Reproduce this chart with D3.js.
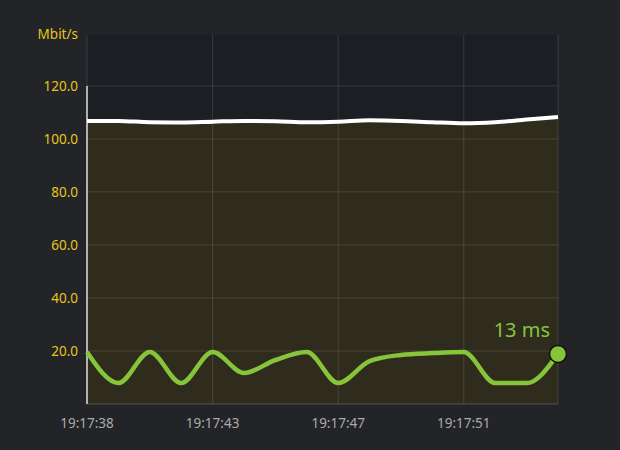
<!DOCTYPE html><html><head><meta charset="utf-8">
<script src="https://cdn.jsdelivr.net/npm/d3@7"></script>
<style>body{margin:0;background:#232427;}svg{display:block;font-family:"Noto Sans",sans-serif;}</style></head><body>
<svg id="c" width="620" height="450"></svg>
<script>
const idx = d3.range(16);
const tickIdx = [0,4,8,12];
const tickLabels = ["19:17:38","19:17:43","19:17:47","19:17:51"];
const yTicks = [20,40,60,80,100,120];
const throughput = [106.8,106.8,106.3,106.2,106.5,106.8,106.7,106.3,106.5,107,106.8,106.3,105.9,106.3,107.3,108.3];
const latency = [19.6,7.9,19.6,7.9,19.6,11.7,16.6,19.6,7.9,16.2,18.5,19.2,19.6,7.9,7.9,18.9];
const lastLabel = "13 ms";

const svg = d3.select("#c");
const m = {l:87,r:558,t:35,b:404};
const x = d3.scaleLinear().domain([0,15]).range([m.l,m.r]);
const y = d3.scaleLinear().domain([0,139.2]).range([m.b,m.t]);
svg.append("rect").attr("x",m.l).attr("y",m.t).attr("width",m.r-m.l).attr("height",m.b-m.t).attr("fill","#1b1e22");
const curve = d3.curveMonotoneX;
svg.append("path").datum(idx).attr("fill","#2f2c1d")
  .attr("d",d3.area().x(i=>x(i)).y0(y(0)).y1(i=>y(throughput[i])).curve(curve));
// grid
svg.append("g").selectAll("line").data(yTicks).join("line")
  .attr("x1",m.l).attr("x2",m.r).attr("y1",d=>y(d)).attr("y2",d=>y(d)).attr("stroke","#ffffff").attr("stroke-opacity",0.12);
svg.append("g").selectAll("line").data(tickIdx.concat([15])).join("line")
  .attr("x1",d=>x(d)).attr("x2",d=>x(d)).attr("y1",m.t).attr("y2",m.b).attr("stroke","#ffffff").attr("stroke-opacity",0.12);
svg.append("line").attr("x1",m.l).attr("x2",m.r).attr("y1",m.b).attr("y2",m.b).attr("stroke","#555");
svg.append("line").attr("x1",m.l).attr("x2",m.l).attr("y1",y(120)).attr("y2",m.b).attr("stroke","#ddd").attr("stroke-width",1.5);
// labels
svg.append("g").selectAll("text").data(yTicks).join("text")
  .attr("x",78).attr("y",d=>y(d)+5).attr("text-anchor","end").attr("fill","#e8c51a").attr("font-size",13.5).text(d=>d.toFixed(1));
svg.append("text").attr("x",78).attr("y",39).attr("text-anchor","end").attr("fill","#e8c51a").attr("font-size",13.5).text("Mbit/s");
svg.append("g").selectAll("text").data(tickIdx).join("text")
  .attr("x",d=>x(d)).attr("y",428).attr("text-anchor","middle").attr("fill","#aaaaaa").attr("font-size",13.5).text((d,i)=>tickLabels[i]);
// lines
svg.append("path").datum(idx).attr("fill","none").attr("stroke","#ffffff").attr("stroke-width",4)
  .attr("d",d3.line().x(i=>x(i)).y(i=>y(throughput[i])).curve(curve));
svg.append("path").datum(idx).attr("fill","none").attr("stroke","#86c53a").attr("stroke-width",4.5)
  .attr("d",d3.line().x(i=>x(i)).y(i=>y(latency[i])).curve(curve));
svg.append("circle").attr("cx",x(15)).attr("cy",y(latency[15])).attr("r",8.5).attr("fill","#86c53a").attr("stroke","#111").attr("stroke-width",1.5);
svg.append("text").attr("x",550).attr("y",337).attr("text-anchor","end").attr("fill","#86c53a").attr("font-size",20).text(lastLabel);
</script></body></html>
